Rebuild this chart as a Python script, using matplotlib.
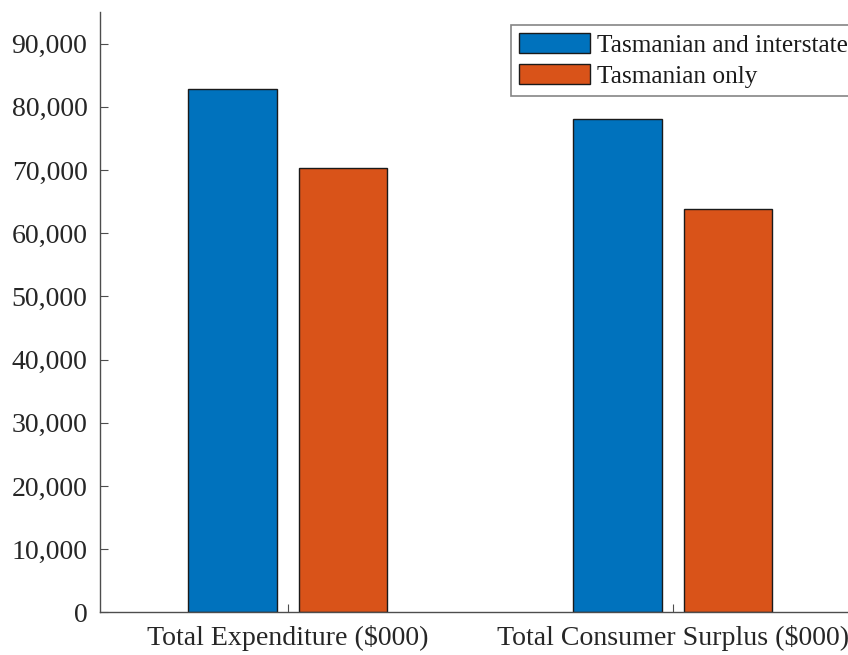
import matplotlib
matplotlib.use("Agg")
import numpy as np
import matplotlib.pyplot as plt
from matplotlib.ticker import FuncFormatter

# values
categories = ["Total Expenditure ($000)", "Total Consumer Surplus ($000)"]
series_names = ["Tasmanian and interstate", "Tasmanian only"]
tas_interstate = [82800, 78050]
tas_only = [70250, 63850]
yticks = np.arange(0, 90001, 10000)

def main():
    plt.rcParams["font.family"] = ["Liberation Serif", "DejaVu Serif"]
    W, H = 848, 655
    fig = plt.figure(figsize=(W / 100, H / 100), dpi=100)

    left, right = 100, 860.4
    bottom, top = 612.3, 12
    ax = fig.add_axes([left / W, 1 - bottom / H, (right - left) / W, (bottom - top) / H])

    x = np.arange(1, len(categories) + 1)
    width = 0.23
    off = 0.144
    ax.bar(x - off, tas_interstate, width, color="#0072BD", edgecolor="#1a1a1a",
           linewidth=1, label=series_names[0])
    ax.bar(x + off, tas_only, width, color="#D95319", edgecolor="#1a1a1a",
           linewidth=1, label=series_names[1])

    ax.set_xlim(0.5125, 2.4875)
    ax.set_ylim(0, 95000)
    ax.set_xticks(x)
    ax.set_xticklabels(categories)
    ax.set_yticks(yticks)
    ax.yaxis.set_major_formatter(FuncFormatter(lambda v, p: "{:,.0f}".format(v)))

    grey = "#4d4d4d"
    for s in ["top", "right"]:
        ax.spines[s].set_visible(False)
    for s in ["left", "bottom"]:
        ax.spines[s].set_color(grey)
        ax.spines[s].set_linewidth(1.0)
    ax.tick_params(direction="in", length=6, width=0.8, colors=grey,
                   labelcolor="#262626", labelsize=20.1)
    ax.tick_params(axis="x", pad=9)
    ax.tick_params(axis="y", pad=9)

    leg = fig.legend(loc="upper left", bbox_to_anchor=(511 / W, 1 - 25 / H),
                     fontsize=18.3, frameon=True, fancybox=False, borderaxespad=0,
                     borderpad=0.3, handlelength=2.8, handleheight=0.85,
                     handletextpad=0.3, labelspacing=0.3)
    leg.get_frame().set_edgecolor("#666666")
    leg.get_frame().set_linewidth(1.2)
    for t in leg.get_texts():
        t.set_color("#1a1a1a")

    fig.savefig("out.png", dpi=100)

if __name__ == "__main__":
    main()
